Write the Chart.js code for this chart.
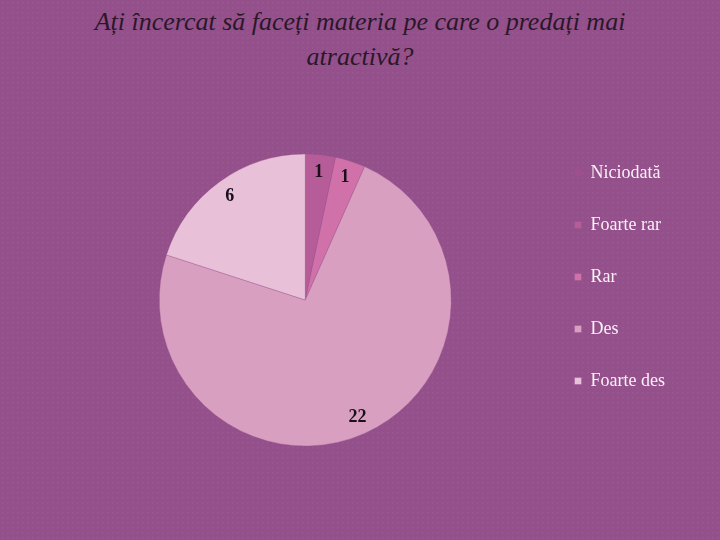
<!DOCTYPE html>
<html>
<head>
<meta charset="utf-8">
<script src="https://cdn.jsdelivr.net/npm/chart.js@4"></script>
<style>
  html, body { margin: 0; padding: 0; }
  body {
    width: 720px; height: 540px; overflow: hidden; position: relative;
    background: #94508b;
    background-image: radial-gradient(rgba(255,255,255,0.04) 1px, transparent 1px);
    background-size: 5px 5px;
  }
  #title {
    position: absolute; left: 0; top: 4px; width: 720px;
    text-align: center; font-family: "Liberation Serif", serif; font-style: italic;
    font-size: 26px; line-height: 35px; color: #2a1829;
  }
  #wrap { position: absolute; left: 0; top: 0; width: 720px; height: 540px; }
</style>
</head>
<body>
<div id="title">Ați încercat să faceți materia pe care o predați mai<br>atractivă?</div>
<div id="wrap"><canvas id="pieChart" width="720" height="540"></canvas></div>
<script>
// chart data
const categories = ["Niciodată", "Foarte rar", "Rar", "Des", "Foarte des"];
const answers = [0, 1, 1, 22, 6];
const sliceColors = ["#9f4f90", "#b65c98", "#d071aa", "#d99fc1", "#e8c1d8"];

// value labels near the outer edge of each slice
const sliceLabels = {
  id: "sliceLabels",
  afterDatasetsDraw(chart) {
    const ctx = chart.ctx;
    const meta = chart.getDatasetMeta(0);
    ctx.save();
    ctx.font = "bold 18px 'Liberation Serif', serif";
    ctx.fillStyle = "#1a0f1a";
    ctx.textAlign = "center";
    ctx.textBaseline = "middle";
    meta.data.forEach((arc, i) => {
      if (!answers[i]) return;
      const p = arc.getProps(["x", "y", "startAngle", "endAngle", "outerRadius"], true);
      const mid = (p.startAngle + p.endAngle) / 2;
      const r = p.outerRadius * 0.88;
      ctx.fillText(String(answers[i]), p.x + Math.cos(mid) * r, p.y + Math.sin(mid) * r);
    });
    ctx.restore();
  }
};

const ctx = document.getElementById("pieChart").getContext("2d");
new Chart(ctx, {
  type: "pie",
  data: {
    labels: categories,
    datasets: [{
      data: answers,
      backgroundColor: sliceColors,
      borderColor: "rgba(150,80,140,0.6)",
      borderWidth: 0.6,
      radius: 146
    }]
  },
  options: {
    responsive: false,
    animation: false,
    layout: { padding: { left: 70, right: 45, top: 130, bottom: 70 } },
    plugins: {
      tooltip: { enabled: false },
      legend: {
        position: "right",
        align: "start",
        labels: {
          boxWidth: 7,
          boxHeight: 7,
          padding: 34,
          color: "#fbf0f8",
          font: { family: "'Liberation Serif', serif", size: 18 }
        }
      }
    }
  },
  plugins: [sliceLabels]
});
</script>
</body>
</html>
